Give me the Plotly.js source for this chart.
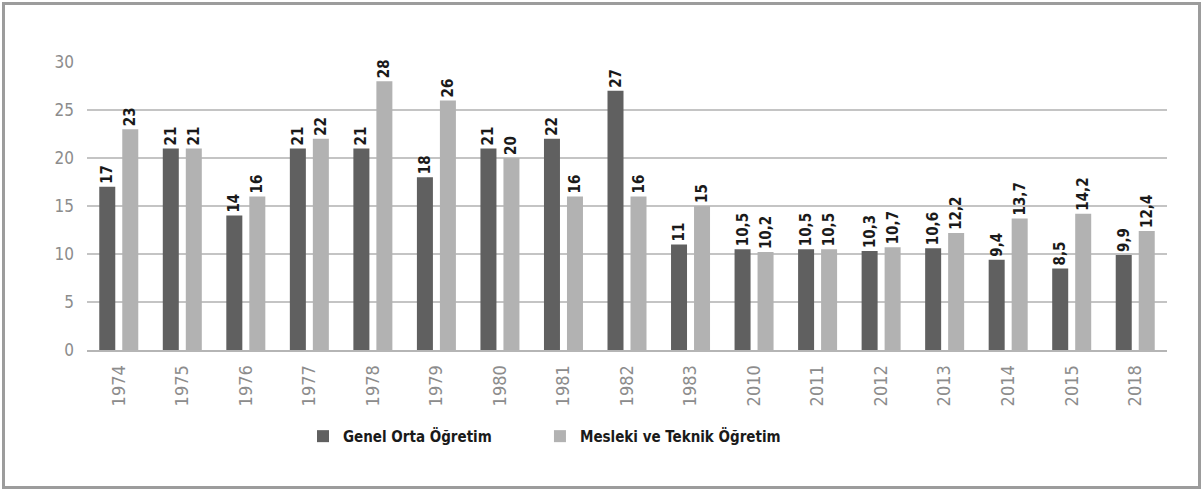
<!DOCTYPE html>
<html><head><meta charset="utf-8">
<script src="https://cdn.plot.ly/plotly-3.0.1.min.js"></script>
<style>
html,body{margin:0;padding:0;background:#fff;}
#chart{width:1204px;height:492px;}
#frame{position:absolute;left:2px;top:2px;width:1199px;height:487px;border:3px solid #9c9c9c;box-sizing:border-box;pointer-events:none;}
</style></head>
<body>
<div id="chart"></div>
<div id="frame"></div>
<script>
const years = ['1974','1975','1976','1977','1978','1979','1980','1981','1982','1983','2010','2011','2012','2013','2014','2015','2018'];
const genel = [17,21,14,21,21,18,21,22,27,11,10.5,10.5,10.3,10.6,9.4,8.5,9.9];
const mesleki = [23,21,16,22,28,26,20,16,16,15,10.2,10.5,10.7,12.2,13.7,14.2,12.4];
const seriesNames = ['Genel Orta Öğretim','Mesleki ve Teknik Öğretim'];
const yTicks = [0,5,10,15,20,25,30];

const FAM = '"DejaVu Sans Condensed","Liberation Sans Narrow",Arial,sans-serif';
const fmt = v => String(v).replace('.', ',');
const labelFont = {family:FAM, size:15, color:'#1a1a1a', weight:'bold'};

function trace(name, vals, color, leg){
  return {type:'bar', name:name, x:years, y:vals, marker:{color:color}, legend:leg,
    text:vals.map(fmt), textposition:'outside', textangle:-90, cliponaxis:false,
    constraintext:'none', textfont:labelFont, hoverinfo:'none'};
}

const data = [trace(seriesNames[0], genel, '#606060', 'legend'), trace(seriesNames[1], mesleki, '#b2b2b2', 'legend2')];

const legFont = {size:15, color:'#1a1a1a', weight:'bold', family:FAM};
const layout = {
  width:1204, height:492,
  margin:{l:87, r:37, t:62, b:142},
  paper_bgcolor:'#fff', plot_bgcolor:'#fff',
  barmode:'group', bargap:0.276, bargroupgap:0.304,
  font:{family:FAM},
  xaxis:{type:'category', tickangle:-90, tickfont:{size:18, color:'#8c8c8c'}, ticklabelstandoff:6,
    showline:true, linecolor:'#b5b5b5', linewidth:2, ticks:'', showgrid:false, fixedrange:true},
  yaxis:{range:[0,30], tickvals:yTicks, ticktext:yTicks.map(String), tickfont:{size:17, color:'#8c8c8c'},
    showgrid:true, gridcolor:'#c4c4c4', gridwidth:1.5, zeroline:false, ticks:'', showline:false, ticklabelstandoff:12},
  showlegend:true,
  legend:{orientation:'h', x:0.200, xanchor:'left', y:-0.30, yanchor:'middle', font:legFont},
  legend2:{orientation:'h', x:0.4194, xanchor:'left', y:-0.30, yanchor:'middle', font:legFont}
};

Plotly.newPlot('chart', data, layout, {displayModeBar:false, staticPlot:true});
</script>
</body></html>
